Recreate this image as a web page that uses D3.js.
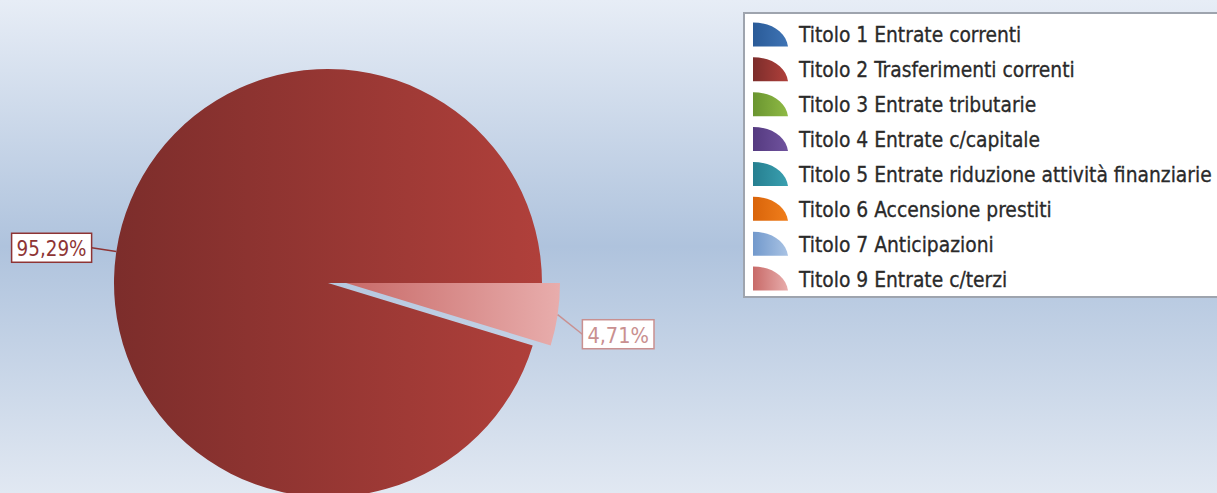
<!DOCTYPE html>
<html>
<head>
<meta charset="utf-8">
<script src="https://cdn.jsdelivr.net/npm/d3@7"></script>
<style>
  html, body { margin: 0; padding: 0; overflow: hidden; }
  svg { display: block; }
</style>
</head>
<body>
<svg id="chart" width="1217" height="493"></svg>
<script>
// dati
const categories = [
  "Titolo 1 Entrate correnti",
  "Titolo 2 Trasferimenti correnti",
  "Titolo 3 Entrate tributarie",
  "Titolo 4 Entrate c/capitale",
  "Titolo 5 Entrate riduzione attività finanziarie",
  "Titolo 6 Accensione prestiti",
  "Titolo 7 Anticipazioni",
  "Titolo 9 Entrate c/terzi"
]
const values = [0, 95.29, 0, 0, 0, 0, 0, 4.71]
const colorsDark = ["#2a5b98", "#7c2d2b", "#6a9530", "#553a80", "#267f90", "#d9640a", "#7299cc", "#c86a68"]
const colorsLight = ["#3f74b5", "#b0403b", "#8fba45", "#70539e", "#3aa0b0", "#f07e1c", "#a9c3e4", "#e8adac"]
const labelColors = ["#2a5b98", "#8e3434", "#6a9530", "#553a80", "#267f90", "#d9640a", "#7299cc", "#c99090"]

const width = 1217, height = 493
const cx = 328, cy = 283, radius = 214
const explodeIdx = 7, explodeDx = 18

const svg = d3.select("#chart")
const defs = svg.append("defs")

// sfondo
const bg = defs.append("linearGradient").attr("id", "bg")
  .attr("x1", 0).attr("y1", 0).attr("x2", 0).attr("y2", 1)
bg.append("stop").attr("offset", "0%").attr("stop-color", "#e7edf6")
bg.append("stop").attr("offset", "50%").attr("stop-color", "#afc3dd")
bg.append("stop").attr("offset", "100%").attr("stop-color", "#e1e8f2")
svg.append("rect").attr("width", width).attr("height", height).attr("fill", "url(#bg)")

categories.forEach((c, i) => {
  const g = defs.append("linearGradient").attr("id", `grad-${i}`)
    .attr("x1", 0).attr("y1", 0).attr("x2", 1).attr("y2", 0)
  g.append("stop").attr("offset", "0%").attr("stop-color", colorsDark[i])
  g.append("stop").attr("offset", "100%").attr("stop-color", colorsLight[i])
})

const data = categories.map((c, i) => ({ name: c, value: values[i], i: i }))

// antiorario a partire dalle ore 3
const pie = d3.pie()
  .value(d => d.value)
  .sort(null)
  .startAngle(Math.PI / 2)
  .endAngle(Math.PI / 2 - 2 * Math.PI)

const arc = d3.arc().innerRadius(0).outerRadius(radius)

const arcs = pie(data).filter(d => d.value > 0)

const pieG = svg.append("g").attr("transform", `translate(${cx},${cy})`)

pieG.selectAll("path.slice")
  .data(arcs)
  .join("path")
  .attr("class", "slice")
  .attr("d", arc)
  .attr("transform", d => d.data.i == explodeIdx ? `translate(${explodeDx},0)` : null)
  .attr("fill", d => `url(#grad-${d.data.i})`)

// etichette
const fmt = v => v.toFixed(2).replace(".", ",") + "%"

arcs.forEach(d => {
  const mid = (d.startAngle + d.endAngle) / 2
  const dx = Math.sin(mid), dy = -Math.cos(mid)
  const off = d.data.i == explodeIdx ? explodeDx : 0
  const x0 = off + dx * radius, y0 = dy * radius
  const right = dx > 0
  const x1 = x0 + dx * 25, y1 = y0 + dy * 25 + (right ? 16 : 0)
  const col = labelColors[d.data.i]

  pieG.append("line")
    .attr("x1", x0).attr("y1", y0).attr("x2", x1).attr("y2", y1)
    .attr("stroke", col).attr("stroke-width", 1.5)

  const lg = pieG.append("g")
  const t = lg.append("text")
    .text(fmt(d.value))
    .attr("font-family", "'DejaVu Sans Condensed', 'DejaVu Sans', sans-serif")
    .attr("font-size", 21)
    .attr("fill", col)
    .attr("dominant-baseline", "central")
  const tw = t.node().getComputedTextLength()
  const sx = 70 / tw * (d.data.value < 10 ? 0.88 : 1)
  const boxW = tw * sx + 10, boxH = 29
  const bx = right ? x1 : x1 - boxW
  lg.insert("rect", "text")
    .attr("x", bx).attr("y", y1 - boxH / 2)
    .attr("width", boxW).attr("height", boxH)
    .attr("fill", "white").attr("stroke", col).attr("stroke-width", 1.5)
  t.attr("transform", `translate(${bx + 5},${y1 + 1}) scale(${sx},1)`)
})

// legenda
const legend = svg.append("g")
legend.append("rect")
  .attr("x", 744).attr("y", 13).attr("width", 490).attr("height", 284)
  .attr("fill", "white").attr("stroke", "#9ea4ae").attr("stroke-width", 2)

const rowY = d3.scaleBand().domain(categories).range([17, 296]).paddingInner(0)

const icon = d3.path()
icon.moveTo(0, 0)
icon.lineTo(0, -24)
icon.bezierCurveTo(19, -24, 33, -14, 35, 0)
icon.closePath()

const rows = legend.selectAll("g.row")
  .data(categories)
  .join("g")
  .attr("class", "row")
  .attr("transform", d => `translate(753,${rowY(d) + rowY.bandwidth() / 2})`)

rows.append("path")
  .attr("d", icon.toString())
  .attr("transform", "translate(0,12)")
  .attr("fill", (d, i) => `url(#grad-${i})`)

const texts = rows.append("text")
  .text(d => d)
  .attr("font-family", "'DejaVu Sans Condensed', 'DejaVu Sans', sans-serif")
  .attr("font-size", 21)
  .attr("fill", "#2a2a2a")
  .attr("stroke", "#2a2a2a")
  .attr("stroke-width", 0.3)
  .attr("dominant-baseline", "central")

const longest = d3.max(texts.nodes(), n => n.getComputedTextLength())
const lsx = 413 / longest
texts.attr("transform", `translate(46,1) scale(${lsx},1)`)
</script>
</body>
</html>
